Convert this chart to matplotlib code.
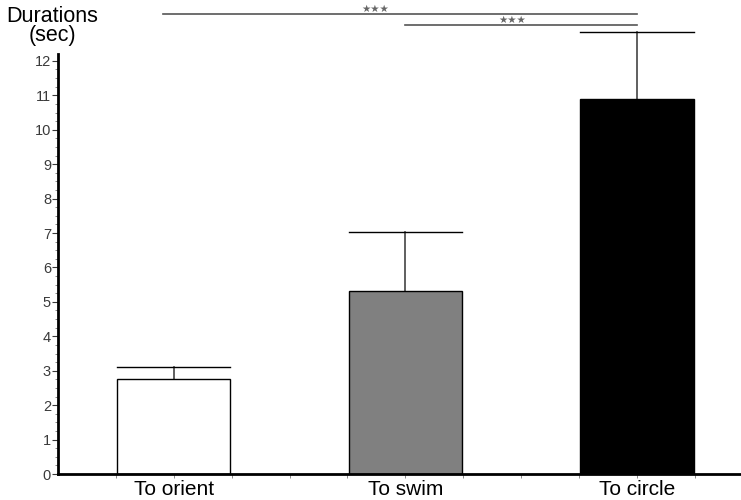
import matplotlib
matplotlib.use("Agg")
import matplotlib.pyplot as plt
import matplotlib.ticker as mticker

plt.rcParams['font.family'] = ['Liberation Sans', 'DejaVu Sans']

categories = ['To orient', 'To swim', 'To circle']
means = [2.77, 5.31, 10.88]
errors = [0.35, 1.73, 1.96]
colors = ['white', '#808080', 'black']

# significance brackets: line start, line end, height, star position, label
sig_start = [-0.047, 1.0]
sig_end = [2.0, 2.0]
sig_height = [13.36, 13.04]
sig_star_x = [0.87, 1.46]
sig_labels = ['★★★', '★★★']

fig = plt.figure(figsize=(7.41, 5.0), dpi=100)
ax = fig.add_axes([58 / 741, 26 / 500, 1 - 58 / 741, 420 / 500])

x = list(range(len(categories)))
ax.bar(x, means, width=0.49, color=colors, edgecolor='black', linewidth=1.0, zorder=2)
for xi, m, e in zip(x, means, errors):
    ax.plot([xi, xi], [m, m + e], color='#444444', lw=1.2, clip_on=False, zorder=1)
    ax.plot([xi - 0.245, xi + 0.245], [m + e, m + e], color='black', lw=1.0, clip_on=False)

for a, b, h, sx, lab in zip(sig_start, sig_end, sig_height, sig_star_x, sig_labels):
    ax.plot([a, b], [h, h], color='#555555', lw=1.2, clip_on=False)
    ax.text(sx, h + 0.16, lab, ha='center', va='center', fontsize=7.5,
            color='#666666', family='DejaVu Sans')

ax.set_xlim(-0.5, 2.45)
ax.set_ylim(0, 12.2)
ax.set_yticks(range(0, 13))
ax.yaxis.set_minor_locator(mticker.MultipleLocator(0.25))
ax.set_xticks(x)
ax.set_xticklabels(categories, fontsize=15)
ax.xaxis.set_minor_locator(mticker.FixedLocator([i * 0.25 for i in range(-1, 10)]))

for s in ['top', 'right']:
    ax.spines[s].set_visible(False)
for s in ['left', 'bottom']:
    ax.spines[s].set_linewidth(2)

ax.tick_params(axis='y', which='major', length=4, width=0.8, labelsize=10.5,
               colors='#3a3a3a', pad=1)
ax.tick_params(axis='y', which='minor', length=2, width=0.6, color='#777777')
ax.tick_params(axis='x', which='major', length=3, width=0.6, color='#777777', pad=1.5)
ax.tick_params(axis='x', which='minor', length=3, width=0.6, color='#777777')
ax.tick_params(axis='x', labelcolor='black')

fig.text(52 / 741, 1 - 26 / 500, 'Durations\n(sec)', ha='center', va='center',
         fontsize=15.5, linespacing=0.9)

fig.savefig('out.png', dpi=100)
